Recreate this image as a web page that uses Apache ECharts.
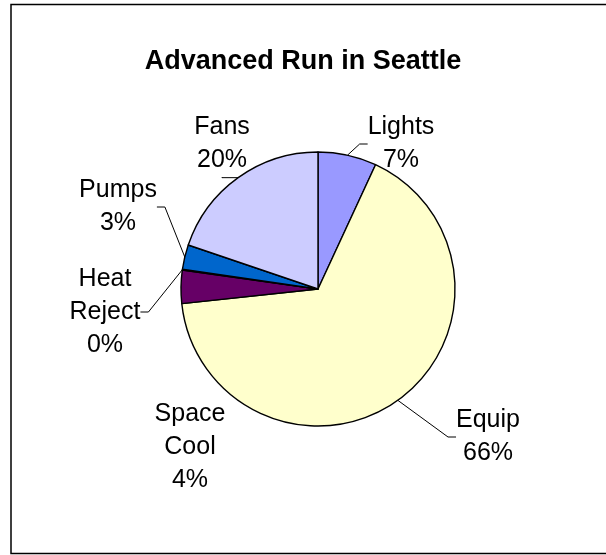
<!DOCTYPE html>
<html>
<head>
<meta charset="utf-8">
<script src="https://cdn.jsdelivr.net/npm/echarts@6/dist/echarts.min.js"></script>
<style>
  html, body { margin: 0; padding: 0; background: #fff; }
  #main { width: 606px; height: 555px; }
</style>
</head>
<body>
<div id="main"></div>
<script>
// end-use breakdown, percent of total
const categories = ['Lights', 'Equip', 'Space\nCool', 'Heat\nReject', 'Pumps', 'Fans'];
const shares = [6.9, 66.4, 3.9, 0.1, 2.9, 19.8];
const sliceColors = ['#9999FF', '#FFFFCC', '#660066', '#FF8080', '#0066CC', '#CCCCFF'];
// where each label block sits (centre, px)
const labelPos = [[401, 144], [488, 437], [190, 447], [105, 312], [118, 207], [222, 144]];
const noLeader = ['Space\nCool'];

const chart = echarts.init(document.getElementById('main'));
const option = {
  animation: false,
  title: {
    text: 'Advanced Run in Seattle',
    left: 'center',
    top: 43,
    textStyle: { fontFamily: 'Liberation Sans, Arial', fontWeight: 'bold', fontSize: 27, color: '#000' }
  },
  graphic: [{
    type: 'rect',
    silent: true,
    shape: { x: 11, y: 4.5, width: 640, height: 549 },
    style: { fill: 'none', stroke: '#000', lineWidth: 1.5 }
  }],
  series: [{
    type: 'pie',
    center: [318, 289],
    radius: 137,
    startAngle: 90,
    clockwise: true,
    data: categories.map((name, i) => ({
      name: name,
      value: shares[i],
      itemStyle: { color: sliceColors[i] },
      labelLine: { show: noLeader.indexOf(name) < 0 }
    })),
    itemStyle: { borderColor: '#000', borderWidth: 1.4 },
    label: {
      formatter: p => p.name + '\n' + Math.round(p.percent) + '%',
      fontFamily: 'Liberation Sans, Arial',
      fontSize: 25,
      lineHeight: 33,
      color: '#000',
      align: 'center'
    },
    labelLine: { show: true, length: 10, length2: 8, lineStyle: { color: '#000', width: 1 } },
    labelLayout: p => ({
      x: labelPos[p.dataIndex][0],
      y: labelPos[p.dataIndex][1],
      align: 'center',
      verticalAlign: 'middle'
    })
  }]
};
chart.setOption(option);
</script>
</body>
</html>
